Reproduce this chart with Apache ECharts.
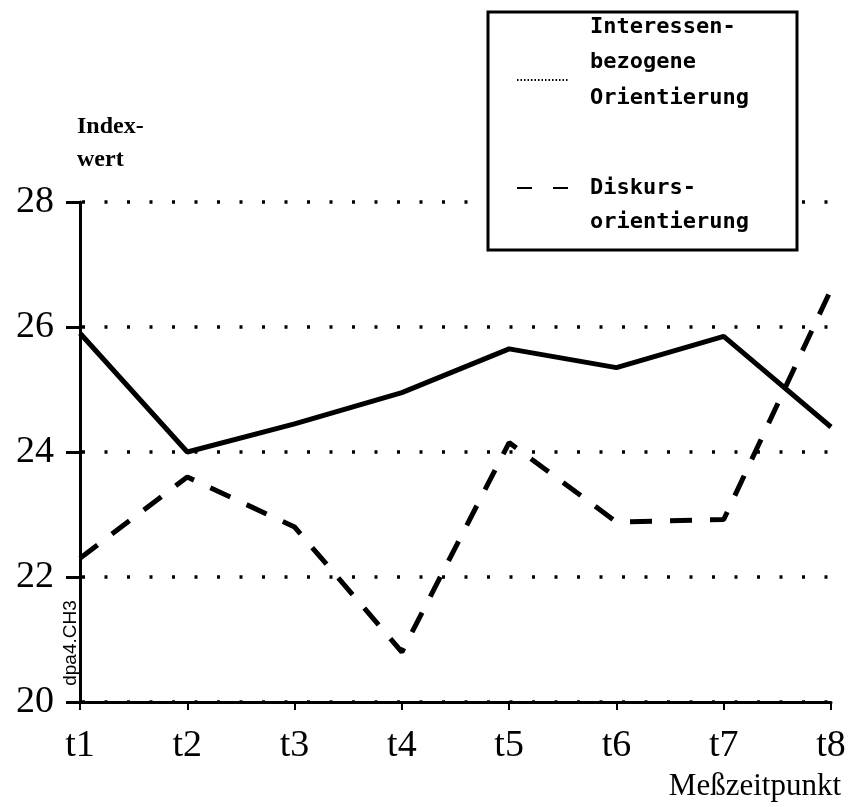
<!DOCTYPE html>
<html>
<head>
<meta charset="utf-8">
<script src="https://cdn.jsdelivr.net/npm/echarts@6/dist/echarts.min.js"></script>
<style>
  html, body { margin: 0; padding: 0; background: #fff; }
  #chart { width: 848px; height: 807px; }
</style>
</head>
<body>
<div id="chart"></div>
<script>
// Messzeitpunkte
var zeitpunkte = ['t1', 't2', 't3', 't4', 't5', 't6', 't7', 't8'];
// Indexwerte
var interessen = [25.9, 24.0, 24.45, 24.95, 25.65, 25.35, 25.85, 24.4];
var diskurs = [22.3, 23.6, 22.8, 20.8, 24.15, 22.88, 22.92, 26.6];
var yTicks = [20, 22, 24, 26, 28];

var serif = '"Liberation Serif", "DejaVu Serif", serif';
var mono = '"DejaVu Sans Mono", monospace';

var chart = echarts.init(document.getElementById('chart'));

// Legendenkasten per graphic (mehrzeilige Beschriftung)
function legText(txt, y) {
  return {
    type: 'text', z: 101, x: 590, y: y,
    style: { text: txt, font: 'bold 22px ' + mono, fill: '#000', verticalAlign: 'middle' }
  };
}

chart.setOption({
  animation: false,
  backgroundColor: '#fff',
  grid: { left: 80, right: 17, top: 202, bottom: 105, containLabel: false, outerBoundsMode: 'none' },
  xAxis: {
    type: 'category',
    data: zeitpunkte,
    boundaryGap: false,
    axisLine: { lineStyle: { color: '#000', width: 3 } },
    axisTick: { show: true, length: 8, lineStyle: { color: '#000', width: 2 } },
    axisLabel: { color: '#000', fontFamily: serif, fontSize: 38, margin: 25 },
    splitLine: { show: false }
  },
  yAxis: {
    type: 'value',
    min: yTicks[0],
    max: yTicks[yTicks.length - 1],
    interval: 2,
    axisLine: { show: true, lineStyle: { color: '#000', width: 3 } },
    axisTick: { show: true, length: 14, lineStyle: { color: '#000', width: 3 } },
    axisLabel: { color: '#000', fontFamily: serif, fontSize: 38, margin: 26 },
    splitLine: {
      show: true,
      lineStyle: { color: '#000', width: 3.5, type: [3, 19.5], dashOffset: -2 }
    }
  },
  series: [
    {
      name: 'Interessenbezogene Orientierung',
      type: 'line',
      data: interessen,
      symbol: 'none',
      lineStyle: { color: '#000', width: 5 },
      z: 5
    },
    {
      name: 'Diskursorientierung',
      type: 'line',
      data: diskurs,
      symbol: 'none',
      lineStyle: { color: '#000', width: 5, type: [22, 18] },
      z: 5
    }
  ],
  graphic: [
    {
      type: 'rect', z: 100,
      shape: { x: 488, y: 12, width: 309, height: 238 },
      style: { fill: '#fff', stroke: '#000', lineWidth: 3 }
    },
    {
      type: 'line', z: 101,
      shape: { x1: 517, y1: 80, x2: 568, y2: 80 },
      style: { stroke: '#000', lineWidth: 2, lineDash: [1.5, 2] }
    },
    {
      type: 'line', z: 101,
      shape: { x1: 517, y1: 188, x2: 568, y2: 188 },
      style: { stroke: '#000', lineWidth: 2, lineDash: [15, 21] }
    },
    legText('Interessen-', 27),
    legText('bezogene', 62),
    legText('Orientierung', 98),
    legText('Diskurs-', 188),
    legText('orientierung', 222),
    {
      type: 'text', x: 77, y: 127,
      style: { text: 'Index-', font: 'bold 24px ' + serif, fill: '#000', verticalAlign: 'middle' }
    },
    {
      type: 'text', x: 77, y: 160,
      style: { text: 'wert', font: 'bold 24px ' + serif, fill: '#000', verticalAlign: 'middle' }
    },
    {
      type: 'text', x: 841, y: 787,
      style: { text: 'Meßzeitpunkt', font: '31px ' + serif, fill: '#000', align: 'right', verticalAlign: 'middle' }
    },
    {
      type: 'text', x: 71, y: 643, rotation: Math.PI / 2,
      style: { text: 'dpa4.CH3', font: '19px "Liberation Sans", sans-serif', fill: '#000', align: 'center', verticalAlign: 'middle' }
    }
  ]
});
</script>
</body>
</html>
